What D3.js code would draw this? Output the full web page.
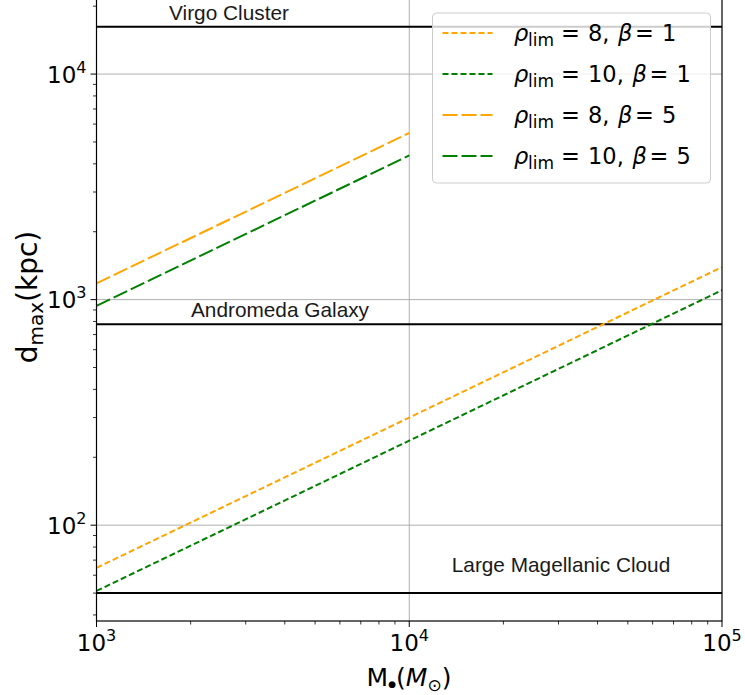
<!DOCTYPE html>
<html>
<head>
<meta charset="utf-8">
<script src="https://cdn.jsdelivr.net/npm/d3@7"></script>
<style>
  body { margin: 0; background: #fff; }
  svg text { font-family: "DejaVu Sans", sans-serif; fill: #000; }
  .note { font-family: "Liberation Sans", Arial, sans-serif; font-size: 20.8px; fill: #1a1a1a; }
</style>
</head>
<body>
<svg id="chart" width="745" height="695"></svg>
<script>
// masses (M_sun) and max distances (kpc)
var massB1 = [1e3, 1e4, 1e5];
var dRho8B1 = [64.7, 300, 1394];
var dRho10B1 = [51.1, 237, 1101];
var massB5 = [1e3, 1e4];
var dRho8B5 = [1180, 5480];
var dRho10B5 = [939, 4360];

// reference distances (kpc)
var refNames = ["Virgo Cluster", "Andromeda Galaxy", "Large Magellanic Cloud"];
var refDist = [16200, 778, 50];

var xTicks = [1e3, 1e4, 1e5];
var yTicks = [1e2, 1e3, 1e4];
var xDomain = [1e3, 1e5];
var yDomain = [37.6, 21300];

var lPad = 96.5, rEdge = 722, tPad = 0, bEdge = 621;
var svg = d3.select("#chart");

var x = d3.scaleLog().domain(xDomain).range([lPad, rEdge]);
var y = d3.scaleLog().domain(yDomain).range([bEdge, tPad]);

// minor ticks, 2..9 of each decade inside the domain
var minors = function(dom) {
	var out = [];
	for (var e = -1; e < 7; e++) {
		for (var k = 2; k < 10; k++) {
			var v = k * Math.pow(10, e);
			if (v > dom[0] && v < dom[1]) out.push(v);
		}
	}
	return out;
};

// grid
svg.append("g").selectAll("line")
	.data(xTicks.filter(function(d) { return d > xDomain[0] && d < xDomain[1]; }))
	.enter().append("line")
	.attr("x1", x).attr("x2", x)
	.attr("y1", tPad).attr("y2", bEdge)
	.attr("stroke", "#b0b0b0").attr("stroke-width", 1);
svg.append("g").selectAll("line")
	.data(yTicks)
	.enter().append("line")
	.attr("y1", y).attr("y2", y)
	.attr("x1", lPad).attr("x2", rEdge)
	.attr("stroke", "#b0b0b0").attr("stroke-width", 1);

// reference lines
svg.append("g").selectAll("line")
	.data(refDist)
	.enter().append("line")
	.attr("x1", lPad).attr("x2", rEdge)
	.attr("y1", y).attr("y2", y)
	.attr("stroke", "#000").attr("stroke-width", 2);

var notePos = [[229, 20], [280, 316.5], [561, 571.5]]; // label anchors
svg.append("g").selectAll("text")
	.data(refNames)
	.enter().append("text")
	.attr("class", "note")
	.attr("text-anchor", "middle")
	.attr("x", function(d, i) { return notePos[i][0]; })
	.attr("y", function(d, i) { return notePos[i][1]; })
	.text(function(d) { return d; });

// series
var series = [
	{ m: massB1, d: dRho8B1, color: "orange", dash: "6,3", rho: "8", beta: "1" },
	{ m: massB1, d: dRho10B1, color: "green", dash: "6,3", rho: "10", beta: "1" },
	{ m: massB5, d: dRho8B5, color: "orange", dash: "15,4", rho: "8", beta: "5" },
	{ m: massB5, d: dRho10B5, color: "green", dash: "15,4", rho: "10", beta: "5" }
];

var line = d3.line()
	.x(function(p) { return x(p[0]); })
	.y(function(p) { return y(p[1]); });

svg.append("g").selectAll("path")
	.data(series)
	.enter().append("path")
	.attr("d", function(s) { return line(d3.zip(s.m, s.d)); })
	.attr("fill", "none")
	.attr("stroke", function(s) { return s.color; })
	.attr("stroke-width", 2)
	.attr("stroke-dasharray", function(s) { return s.dash; });

// frame
svg.append("rect")
	.attr("x", lPad).attr("y", tPad - 1)
	.attr("width", rEdge - lPad).attr("height", bEdge - tPad + 1)
	.attr("fill", "none").attr("stroke", "#000").attr("stroke-width", 1.2);

// x axis
var xAxis = svg.append("g").attr("transform", "translate(0," + bEdge + ")");
xAxis.selectAll("line.minor")
	.data(minors(xDomain)).enter().append("line")
	.attr("x1", x).attr("x2", x).attr("y1", 0).attr("y2", 3.5)
	.attr("stroke", "#000").attr("stroke-width", 0.8);
xAxis.selectAll("line.major")
	.data(xTicks).enter().append("line")
	.attr("x1", x).attr("x2", x).attr("y1", 0).attr("y2", 6)
	.attr("stroke", "#000").attr("stroke-width", 1);
var xl = xAxis.selectAll("text")
	.data(xTicks).enter().append("text")
	.attr("x", x).attr("y", 30)
	.attr("text-anchor", "middle")
	.style("font-size", "23px");
xl.append("tspan").text("10");
xl.append("tspan").attr("dy", -10).style("font-size", "16px")
	.text(function(d) { return Math.round(Math.log10(d)); });

// y axis
var yAxis = svg.append("g").attr("transform", "translate(" + lPad + ",0)");
yAxis.selectAll("line.minor")
	.data(minors(yDomain)).enter().append("line")
	.attr("y1", y).attr("y2", y).attr("x1", 0).attr("x2", -3.5)
	.attr("stroke", "#000").attr("stroke-width", 0.8);
yAxis.selectAll("line.major")
	.data(yTicks).enter().append("line")
	.attr("y1", y).attr("y2", y).attr("x1", 0).attr("x2", -6)
	.attr("stroke", "#000").attr("stroke-width", 1);
var yl = yAxis.selectAll("text")
	.data(yTicks).enter().append("text")
	.attr("x", -10).attr("y", function(d) { return y(d) + 8.5; })
	.attr("text-anchor", "end")
	.style("font-size", "23px");
yl.append("tspan").text("10");
yl.append("tspan").attr("dy", -10).style("font-size", "16px")
	.text(function(d) { return Math.round(Math.log10(d)); });

// axis titles
var yt = svg.append("text")
	.attr("transform", "translate(37,297) rotate(-90)")
	.attr("text-anchor", "middle")
	.style("font-size", "28px");
yt.append("tspan").text("d");
yt.append("tspan").attr("dy", 6).style("font-size", "20px").text("max");
yt.append("tspan").attr("dy", -6).text("(kpc)");

var xt = svg.append("text")
	.attr("x", 409).attr("y", 686)
	.attr("text-anchor", "middle")
	.style("font-size", "25px");
xt.append("tspan").text("M");
xt.append("tspan").attr("dy", 1).style("font-size", "9px").text("\u25CF");
xt.append("tspan").attr("dy", -1).text("(");
xt.append("tspan").style("font-style", "italic").text("M");
xt.append("tspan").attr("dy", 5).style("font-size", "17px").text("\u2299");
xt.append("tspan").attr("dy", -5).text(")");

// legend
var leg = svg.append("g").attr("transform", "translate(432.5,13)");
leg.append("rect")
	.attr("width", 278).attr("height", 170).attr("rx", 4)
	.attr("fill", "#fff").attr("fill-opacity", 0.8)
	.attr("stroke", "#cccccc").attr("stroke-width", 1);
var item = leg.selectAll("g.item")
	.data(series).enter().append("g")
	.attr("transform", function(s, i) { return "translate(0," + (20 + i * 41) + ")"; });
item.append("line")
	.attr("x1", 10).attr("x2", 60).attr("y1", 0).attr("y2", 0)
	.attr("stroke", function(s) { return s.color; })
	.attr("stroke-width", 2)
	.attr("stroke-dasharray", function(s) { return s.dash; });
// mathtext-like layout: fixed offsets from the entry start
var tx = 81.5;
var shift = function(s) { return (s.rho.length - 1) * 14.5; };
var it = item.append("text").attr("y", 8).style("font-size", "22.5px");
it.append("tspan").attr("x", tx).style("font-style", "italic").text("\u03C1");
it.append("tspan").attr("x", tx + 14).attr("dy", 5).style("font-size", "17px").text("lim");
it.append("tspan").attr("x", tx + 47).attr("dy", -5).text("=");
it.append("tspan").attr("x", tx + 74).text(function(s) { return s.rho + ","; });
it.append("tspan").attr("x", function(s) { return tx + 104 + shift(s); })
	.style("font-style", "italic").text("\u03B2");
it.append("tspan").attr("x", function(s) { return tx + 121 + shift(s); }).text("=");
it.append("tspan").attr("x", function(s) { return tx + 148 + shift(s); })
	.text(function(s) { return s.beta; });
</script>
</body>
</html>
